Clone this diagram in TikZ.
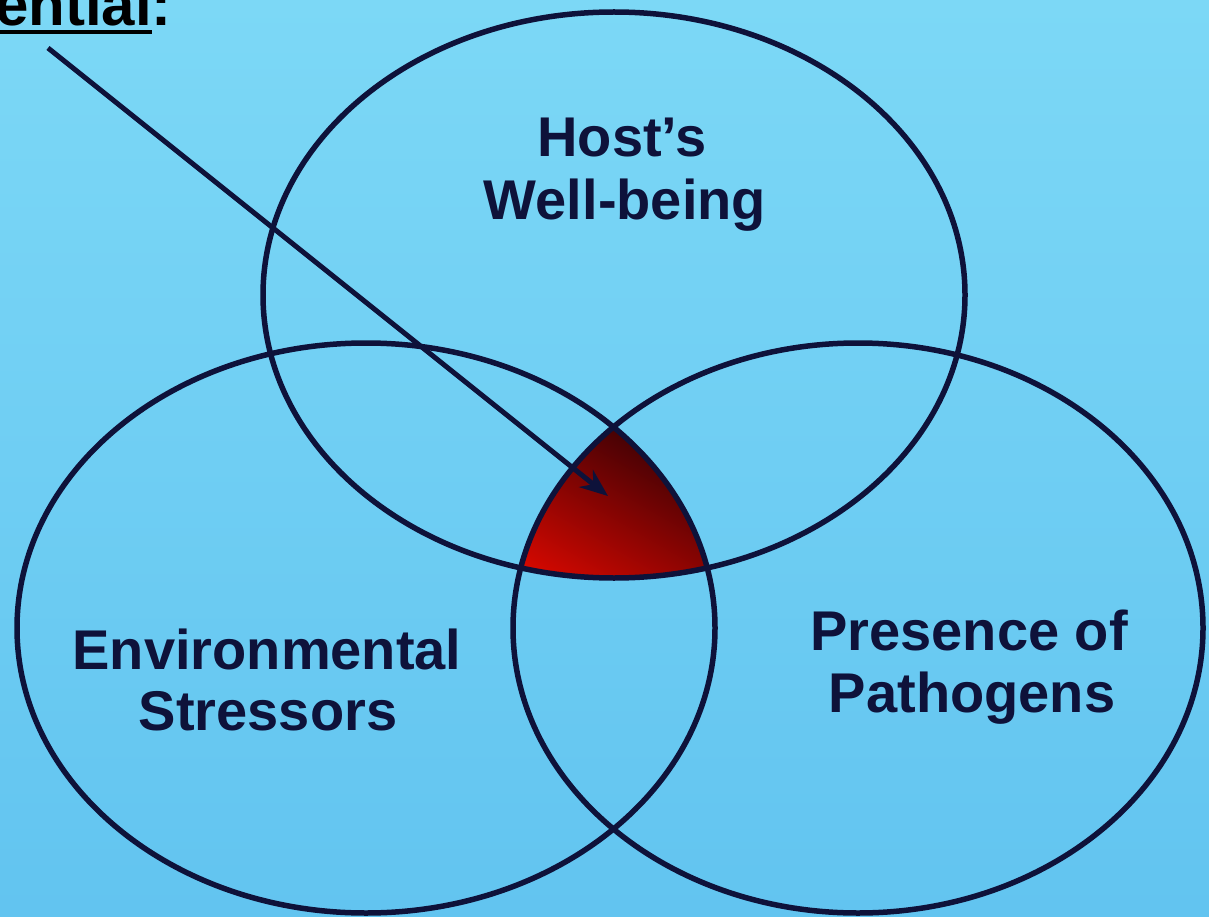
\documentclass[tikz,border=0pt]{standalone}
\usepackage{fontspec}
\setmainfont{Liberation Sans}
\usetikzlibrary{arrows.meta}
\definecolor{bgtop}{RGB}{124,216,246}
\definecolor{bgbot}{RGB}{98,196,240}
\definecolor{ink}{RGB}{14,18,58}
\definecolor{redlight}{RGB}{215,8,0}
\definecolor{redmid}{RGB}{170,5,0}
\definecolor{reddark}{RGB}{40,0,5}
\tikzset{
  venn/.style={draw=ink, line width=5.5pt},
  lbl/.style={anchor=base, inner sep=0pt, text=ink, font=\bfseries\fontsize{56}{63}\selectfont},
  pointer/.style={draw=ink, line width=5pt, -{Stealth[length=28pt,width=22pt]}},
}
\begin{document}
\begin{tikzpicture}[x=1pt,y=-1pt]
\useasboundingbox (0,0) rectangle (1209,917);
\clip (0,0) rectangle (1209,917);
\shade[top color=bgtop, bottom color=bgbot] (0,0) rectangle (1209,917);
% common region of the three sets
\begin{scope}
  \clip (614,295) ellipse [x radius=351pt, y radius=283pt];
  \clip (366,628) ellipse [x radius=349pt, y radius=285pt];
  \clip (858,628) ellipse [x radius=345pt, y radius=285pt];
  \shade[top color=reddark, middle color=redmid, bottom color=redlight, shading angle=-30] (500,410) rectangle (730,600);
\end{scope}
% the three sets
\draw[venn] (614,295) ellipse [x radius=351pt, y radius=283pt];
\draw[venn] (366,628) ellipse [x radius=349pt, y radius=285pt];
\draw[venn] (858,628) ellipse [x radius=345pt, y radius=285pt];
% labels
\node[lbl] (host1) at (622,157) {Host’s};
\node[lbl] (host2) at (625,220) {Well-being};
\node[lbl] (env1) at (267,669) {Environmental};
\node[lbl] (env2) at (268,730) {Stressors};
\node[lbl] (pat1) at (969,650) {Presence of};
\node[lbl] (pat2) at (972,712) {Pathogens};
% cut-off title
\node[anchor=base east, inner sep=0pt, text=black, font=\bfseries\fontsize{60}{60}\selectfont] (title) at (172,26) {ential:};
\draw[black, line width=4pt] (-5,32) -- (152,32);
% pointer
\coordinate (astart) at (48,48);
\coordinate (atip) at (608,496);
\draw[pointer] (astart) -- (atip);
\end{tikzpicture}
\end{document}
